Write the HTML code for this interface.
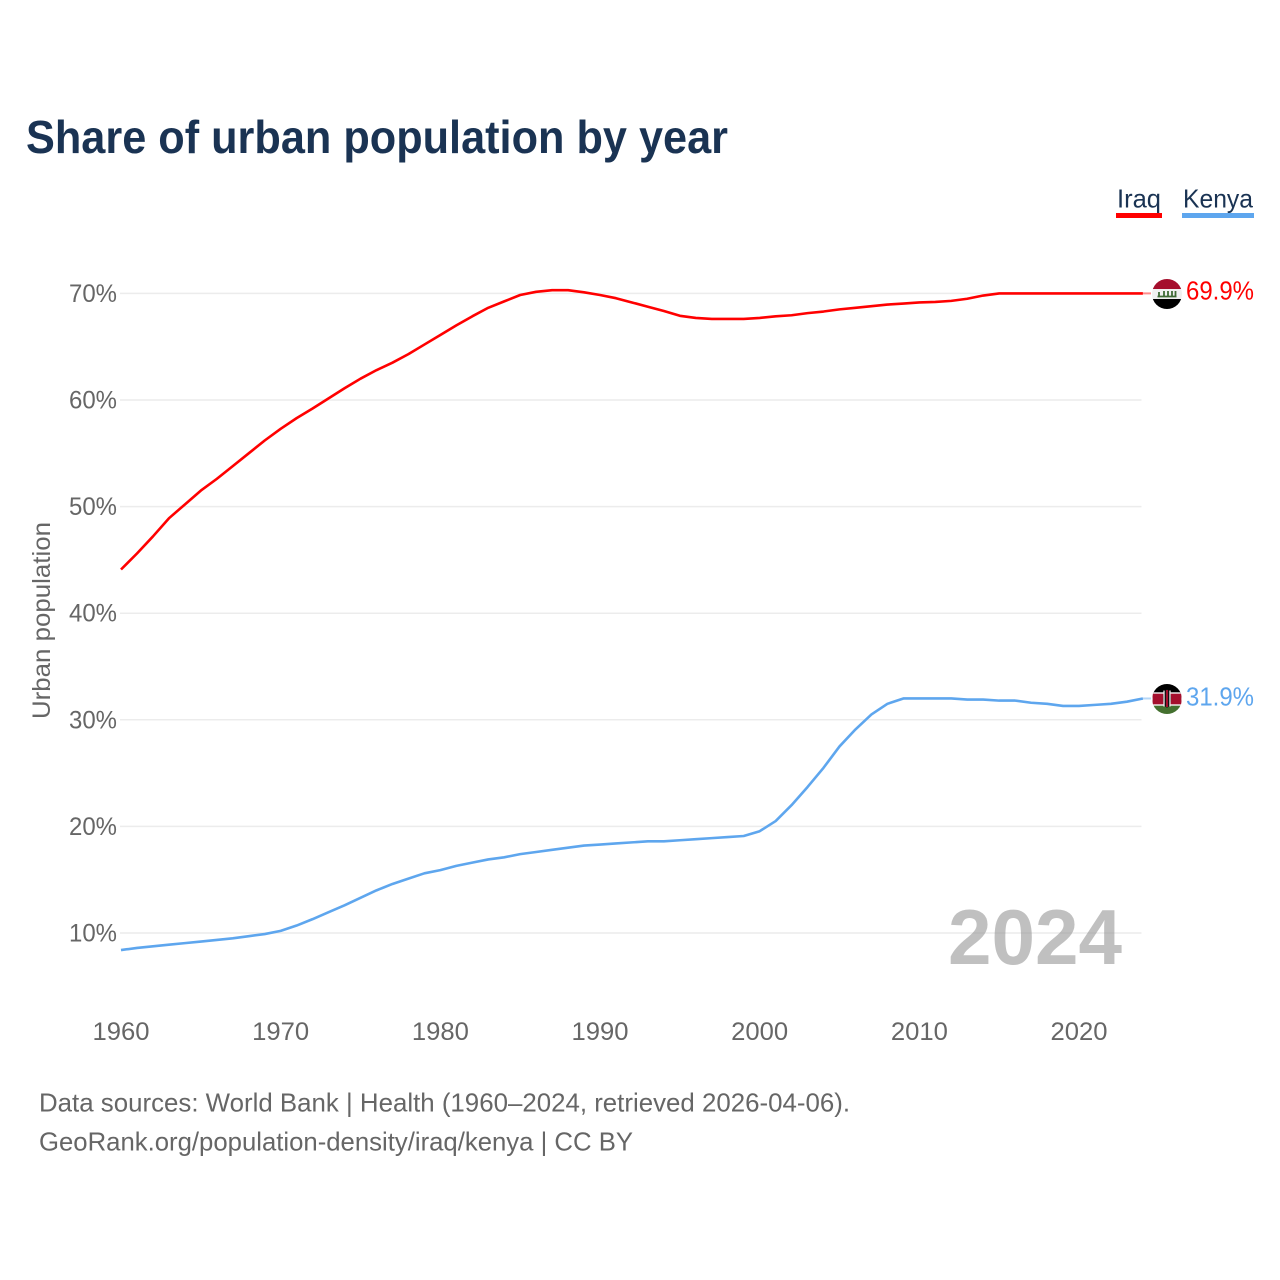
<!DOCTYPE html>
<html lang="en">
<head>
<meta charset="utf-8">
<title>Share of urban population by year</title>
<style>
html,body{margin:0;padding:0;background:#fff;}
svg{display:block;font-family:"Liberation Sans",sans-serif;}
</style>
</head>
<body>
<svg id="chart" xmlns="http://www.w3.org/2000/svg" width="1280" height="1280" viewBox="0 0 1280 1280">
  <defs>
    <clipPath id="flag-clip-iraq"><circle id="clip-iraq" cx="1167" cy="294" r="15"/></clipPath>
    <clipPath id="flag-clip-kenya"><circle id="clip-kenya" cx="1167" cy="699" r="15"/></clipPath>
  </defs>
  <rect width="1280" height="1280" fill="#fff"/>
  <text x="26" y="153" font-size="46" font-weight="700" fill="#1a3353" textLength="702" lengthAdjust="spacingAndGlyphs">Share of urban population by year</text>

  <g>
    <g>
      <text x="1117" y="207.5" font-size="26" fill="#1a3353" textLength="44" lengthAdjust="spacingAndGlyphs">Iraq</text>
      <rect x="1116" y="213" width="46" height="5" fill="#ff0000"/>
    </g>
    <g>
      <text x="1183" y="207.5" font-size="26" fill="#1a3353" textLength="70" lengthAdjust="spacingAndGlyphs">Kenya</text>
      <rect x="1182" y="213" width="72" height="5" fill="#5ea6ee"/>
    </g>
  </g>

  <g id="grid"></g>
  <g id="y-ticks"></g>
  <g id="x-ticks"></g>
  <text transform="translate(50,719) rotate(-90)" font-size="25" fill="#666" textLength="197" lengthAdjust="spacingAndGlyphs">Urban population</text>

  <text x="948" y="964" font-size="78" font-weight="700" fill="#8c8c8c" fill-opacity="0.55" textLength="174" lengthAdjust="spacingAndGlyphs">2024</text>

  <g id="series"></g>

  <g id="flag-iraq" clip-path="url(#flag-clip-iraq)">
    <rect x="1152" y="279" width="30" height="10" fill="#a50f2d"/>
    <rect x="1152" y="289" width="30" height="10" fill="#f0f0f0"/>
    <rect x="1152" y="299" width="30" height="10" fill="#000"/>
    <path d="M1157.5 296.5h19M1159 292v4M1164 291v5M1168 291v5M1172 291v5M1175.5 291v5" stroke="#3f6b35" stroke-width="1.8" fill="none"/>
  </g>
  <g id="flag-kenya" clip-path="url(#flag-clip-kenya)">
    <rect x="1152" y="684" width="30" height="10" fill="#000"/>
    <rect x="1152" y="693" width="30" height="12" fill="#a50f2d" stroke="#f2f2f2" stroke-width="1.4"/>
    <rect x="1152" y="705.7" width="30" height="9" fill="#44702f"/>
    <ellipse cx="1167" cy="698.5" rx="4" ry="9" fill="#111"/>
    <path d="M1164 690.5v16M1170 690.5v16" stroke="#eee" stroke-width="1.3"/>
    <rect x="1166" y="690" width="2" height="17" fill="#a50f2d"/>
  </g>
  <text id="label-iraq" x="1186" y="299.5" font-size="26" fill="#ff0000" textLength="68" lengthAdjust="spacingAndGlyphs"></text>
  <text id="label-kenya" x="1186" y="705.5" font-size="26" fill="#5ea6ee" textLength="68" lengthAdjust="spacingAndGlyphs"></text>

  <text x="39" y="1111.5" font-size="26" fill="#666" textLength="811" lengthAdjust="spacingAndGlyphs">Data sources: World Bank | Health (1960–2024, retrieved 2026-04-06).</text>
  <text x="39" y="1150.5" font-size="26" fill="#666" textLength="594" lengthAdjust="spacingAndGlyphs">GeoRank.org/population-density/iraq/kenya | CC BY</text>
</svg>
<script>
var startYear = 1960;
var iraqValues = [44.1,45.6,47.2,48.9,50.2,51.5,52.6,53.8,55.0,56.2,57.3,58.3,59.2,60.15,61.1,62.0,62.8,63.5,64.3,65.2,66.1,67.0,67.85,68.65,69.25,69.85,70.15,70.3,70.3,70.1,69.85,69.55,69.15,68.75,68.35,67.9,67.7,67.6,67.6,67.6,67.7,67.85,67.95,68.15,68.3,68.5,68.65,68.8,68.95,69.05,69.15,69.2,69.3,69.5,69.8,70.0,70.0,70.0,70.0,70.0,70.0,70.0,70.0,70.0,70.0];
var kenyaValues = [8.4,8.6,8.75,8.9,9.05,9.2,9.35,9.5,9.7,9.9,10.2,10.7,11.3,11.95,12.6,13.3,14.0,14.6,15.1,15.6,15.9,16.3,16.6,16.9,17.1,17.4,17.6,17.8,18.0,18.2,18.3,18.4,18.5,18.6,18.6,18.7,18.8,18.9,19.0,19.1,19.55,20.5,22.0,23.7,25.5,27.5,29.1,30.5,31.5,32.0,32.0,32.0,32.0,31.9,31.9,31.8,31.8,31.6,31.5,31.3,31.3,31.4,31.5,31.7,32.0];
var yTickValues = [10,20,30,40,50,60,70];
var xTickYears = [1960,1970,1980,1990,2000,2010,2020];
var iraqEndLabel = "69.9%";
var kenyaEndLabel = "31.9%";

var NS = "http://www.w3.org/2000/svg";
function xScale(year){ return 121 + (year - 1960) * 15.967; }
function yScale(v){ return 933 - (v - 10) * 10.66; }
function make(tag, parent, attrs){
  var el = document.createElementNS(NS, tag);
  for (var k in attrs) el.setAttribute(k, attrs[k]);
  parent.appendChild(el);
  return el;
}

var grid = document.getElementById("grid");
var yTicks = document.getElementById("y-ticks");
var xTicks = document.getElementById("x-ticks");
yTickValues.forEach(function(v){
  var line = make("line", grid, {x1:120, x2:1141.5, y1:yScale(v), y2:yScale(v), stroke:"#ececec", "stroke-width":1.5});
  
  
  var t = make("text", yTicks, {x:69, y:yScale(v)+8.5, "font-size":25, fill:"#666", textLength:48, lengthAdjust:"spacingAndGlyphs"});
  
  
  t.textContent = v + "%";
});
xTickYears.forEach(function(y){
  var t = make("text", xTicks, {x:xScale(y), y:1040, "font-size":25, fill:"#666", "text-anchor":"middle", textLength:57, lengthAdjust:"spacingAndGlyphs"});
  
  
  t.textContent = y;
});

function pathFor(values){
  return values.map(function(v,i){
    return (i ? "L" : "M") + xScale(startYear + i).toFixed(2) + " " + yScale(v).toFixed(2);
  }).join("");
}
var seriesGroup = document.getElementById("series");
var iraqLine = make("path", seriesGroup, {d:pathFor(iraqValues), fill:"none", stroke:"#ff0000", "stroke-width":2.6, "stroke-linejoin":"round"});


var kenyaLine = make("path", seriesGroup, {d:pathFor(kenyaValues), fill:"none", stroke:"#5ea6ee", "stroke-width":2.6, "stroke-linejoin":"round"});



function placeEnd(values, key, baseY, color){
  var y = yScale(values[values.length-1]);
  var x0 = xScale(startYear + values.length - 1);
  var leader = make("line", seriesGroup, {x1:x0, x2:1151, y1:y, y2:y, stroke:color, "stroke-width":2, "stroke-opacity":0.45});
  
  
  var dy = y - baseY;
  document.getElementById("flag-" + key).setAttribute("transform", "translate(0," + dy.toFixed(2) + ")");
  document.getElementById("label-" + key).setAttribute("transform", "translate(0," + dy.toFixed(2) + ")");
}
placeEnd(iraqValues, "iraq", yScale(70), "#ff0000");
placeEnd(kenyaValues, "kenya", yScale(32), "#5ea6ee");
document.getElementById("label-iraq").textContent = iraqEndLabel;
document.getElementById("label-kenya").textContent = kenyaEndLabel;
</script>
</body>
</html>
